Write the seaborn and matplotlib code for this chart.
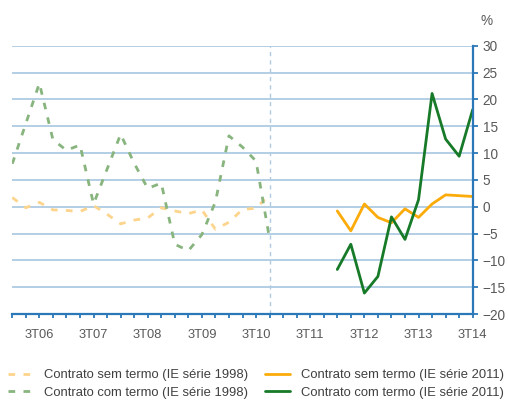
import matplotlib
matplotlib.use("Agg")
import matplotlib.pyplot as plt
import seaborn as sns
import pandas as pd

# ---- data ----
quarters = ["1T06", "2T06", "3T06", "4T06", "1T07", "2T07", "3T07", "4T07",
            "1T08", "2T08", "3T08", "4T08", "1T09", "2T09", "3T09", "4T09",
            "1T10", "2T10", "3T10", "4T10", "1T11", "2T11", "3T11", "4T11",
            "1T12", "2T12", "3T12", "4T12", "1T13", "2T13", "3T13", "4T13",
            "1T14", "2T14", "3T14"]
tick_labels = ["3T06", "3T07", "3T08", "3T09", "3T10", "3T11", "3T12", "3T13", "3T14"]

q_1998 = quarters[0:20]
q_2011 = quarters[24:35]

sem_1998 = [1.7, -0.2, 0.8, -0.6, -0.7, -0.9, 0.2, -1.4, -3.2, -2.5,
            -2.1, -0.2, -0.8, -1.3, -0.6, -4.2, -2.9, -0.5, -0.3, 2.3]
com_1998 = [8.0, 15.5, 23.0, 12.5, 10.5, 11.5, 0.5, 7.0, 13.5, 8.1,
            3.4, 4.4, -7.0, -8.2, -5.2, 0.9, 13.2, 11.1, 8.5, -6.0]
sem_2011 = [-0.8, -4.5, 0.5, -2.0, -3.0, -0.4, -2.0, 0.5, 2.2, 2.05, 1.9]
com_2011 = [-11.7, -7.0, -16.1, -13.0, -1.9, -6.1, 1.3, 21.1, 12.6, 9.4, 18.1]

labels = ["Contrato sem termo (IE série 1998)",
          "Contrato com termo (IE série 1998)",
          "Contrato sem termo (IE série 2011)",
          "Contrato com termo (IE série 2011)"]

# ---- style ----
sns.set_style("white")
plt.rcParams["font.family"] = ["Liberation Sans", "DejaVu Sans"]

W, H = 508, 407
fig = plt.figure(figsize=(W / 100, H / 100), dpi=100)
ax = fig.add_axes([12.3 / W, 1 - 314 / H, (472.7 - 12.3) / W, (314 - 45.7) / H])

pos = {q: i for i, q in enumerate(quarters)}

def frame(qs, vals):
    return pd.DataFrame({"x": [pos[q] for q in qs], "y": vals})

blue = "#2b78b8"
grid_c = "#aecbe3"
text_c = "#595959"

# grid
for v in range(-15, 31, 5):
    ax.axhline(v, color=grid_c, lw=1.3, zorder=0)
ax.axvline(pos["4T10"], color=grid_c, lw=1.0, ls=(0, (3, 3)), zorder=0)

dash = (0, (2.4, 3.0))
sns.lineplot(data=frame(q_1998, sem_1998), x="x", y="y", ax=ax, color="#fdd48c",
             lw=2.0, linestyle=dash, label=labels[0])
sns.lineplot(data=frame(q_1998, com_1998), x="x", y="y", ax=ax, color="#88b47e",
             lw=2.0, linestyle=dash, label=labels[1])
sns.lineplot(data=frame(q_2011, sem_2011), x="x", y="y", ax=ax, color="#fbab0a",
             lw=2.0, label=labels[2])
sns.lineplot(data=frame(q_2011, com_2011), x="x", y="y", ax=ax, color="#177a28",
             lw=2.0, label=labels[3])

ax.set_xlim(0, len(quarters) - 1)
ax.set_ylim(-20, 30)
ax.set_xlabel("")
ax.set_ylabel("")

ax.set_xticks(range(len(quarters)))
ax.set_xticklabels([q if q in tick_labels else "" for q in quarters])
ax.set_yticks(range(-20, 31, 5))
ax.yaxis.tick_right()
ax.tick_params(axis="x", direction="out", length=3, width=1.3, color=blue,
               labelsize=9.3, labelcolor=text_c, pad=7.5, bottom=True)
ax.tick_params(axis="y", direction="out", length=3.6, width=1.3, color=blue,
               labelsize=9.8, labelcolor=text_c, pad=3.5, right=True, left=False)
for lab in ax.get_yticklabels():
    lab.set_horizontalalignment("left")

for s in ["left", "top"]:
    ax.spines[s].set_visible(False)
for s in ["right", "bottom"]:
    ax.spines[s].set_visible(True)
    ax.spines[s].set_color(blue)
    ax.spines[s].set_linewidth(1.6)

fig.text(487 / W, 1 - 21 / H, "%", ha="center", va="center", fontsize=9.8, color=text_c)

handles, labs = ax.get_legend_handles_labels()
ax.get_legend().remove()
leg = fig.legend(handles, labs, ncol=2, loc="upper left",
                 bbox_to_anchor=(8 / W, 1 - 369 / H), frameon=False,
                 fontsize=9.4, handlelength=1.95, handletextpad=0.8,
                 columnspacing=1.3, labelspacing=0.42, borderpad=0, borderaxespad=0)
for t in leg.get_texts():
    t.set_color("#404040")

fig.savefig("out.png", dpi=100)
